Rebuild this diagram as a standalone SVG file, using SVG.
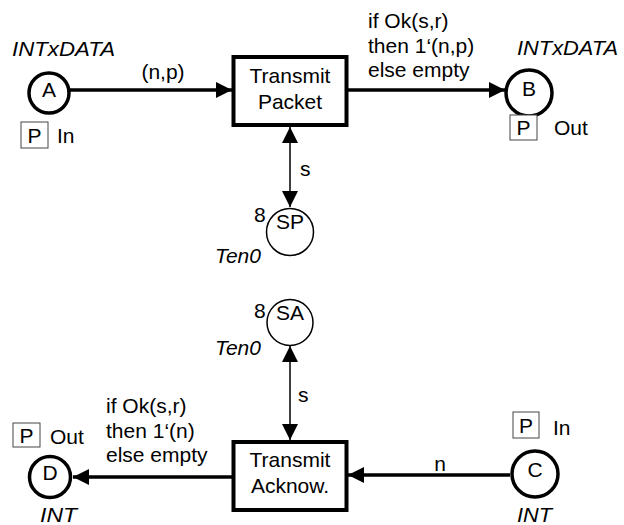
<svg xmlns="http://www.w3.org/2000/svg" width="624" height="525" viewBox="0 0 624 525">
<style>
text{font-family:"Liberation Sans",Arial,Helvetica,sans-serif;font-size:21px;fill:#000}
.it{font-style:italic}
.mid{text-anchor:middle}
.place{fill:#fff;stroke:#000;stroke-width:3.5}
.pool{fill:#fff;stroke:#000;stroke-width:1.5}
.trans{fill:#fff;stroke:#000;stroke-width:4}
.port{fill:#fff;stroke:#444;stroke-width:1}
.thick{fill:none;stroke:#000;stroke-width:3.5}
.thin{fill:none;stroke:#000;stroke-width:1.5}
</style>
<defs>
<marker id="ah" viewBox="0 0 16 16" refX="16" refY="8" markerWidth="16" markerHeight="16" markerUnits="userSpaceOnUse" orient="auto-start-reverse">
<path d="M0,0 L16,8 L0,16 z" fill="#000"/>
</marker>
</defs>
<rect width="624" height="525" fill="#fff"/>
<g id="connectors">
<path class="thick" d="M70,90 L232,90" marker-end="url(#ah)"/>
<text x="163" y="79" class="mid">(n,p)</text>
<path class="thick" d="M348,90 L505,90" marker-end="url(#ah)"/>
<text x="368" y="28">if Ok(s,r)</text>
<text x="368" y="53">then 1‘(n,p)</text>
<text x="368" y="77">else empty</text>
<path class="thin" d="M290,127 L290,207" marker-start="url(#ah)" marker-end="url(#ah)"/>
<text x="300" y="176">s</text>
<path class="thin" d="M290,346 L290,440" marker-start="url(#ah)" marker-end="url(#ah)"/>
<text x="298" y="402">s</text>
<path class="thick" d="M510,475 L348,475" marker-end="url(#ah)"/>
<text x="440" y="471" class="mid">n</text>
<path class="thick" d="M232,477 L73,477" marker-end="url(#ah)"/>
<text x="106" y="413">if Ok(s,r)</text>
<text x="106" y="438">then 1‘(n)</text>
<text x="106" y="462">else empty</text>
</g>
<g id="A">
<text x="12" y="56" class="it" textLength="103" lengthAdjust="spacingAndGlyphs">INTxDATA</text>
<circle class="place" cx="49" cy="93" r="20"/>
<text x="49" y="97" class="mid">A</text>
<rect class="port" x="21" y="122" width="27" height="26"/>
<text x="34.5" y="143" class="mid">P</text>
<text x="57" y="143">In</text>
</g>
<g id="TransmitPacket">
<rect class="trans" x="233.5" y="57" width="113" height="68"/>
<text x="290" y="83" class="mid">Transmit</text>
<text x="290" y="109" class="mid">Packet</text>
</g>
<g id="B">
<text x="517" y="55" class="it" textLength="101" lengthAdjust="spacingAndGlyphs">INTxDATA</text>
<circle class="place" cx="529" cy="93" r="23"/>
<text x="529" y="96" class="mid">B</text>
<rect class="port" x="510" y="115" width="27" height="25"/>
<text x="523.5" y="135" class="mid">P</text>
<text x="554" y="135">Out</text>
</g>
<g id="SP">
<circle class="pool" cx="290" cy="232" r="23.5"/>
<text x="290" y="229" class="mid">SP</text>
<text x="254" y="222">8</text>
<text x="215" y="263" class="it">Ten0</text>
</g>
<g id="SA">
<circle class="pool" cx="290" cy="322.5" r="23"/>
<text x="290" y="320" class="mid">SA</text>
<text x="254" y="318">8</text>
<text x="215" y="355" class="it">Ten0</text>
</g>
<g id="TransmitAcknow">
<rect class="trans" x="233.5" y="442" width="113" height="68"/>
<text x="290" y="467" class="mid">Transmit</text>
<text x="290" y="493" class="mid">Acknow.</text>
</g>
<g id="C">
<rect class="port" x="513" y="412" width="26" height="26"/>
<text x="526" y="433" class="mid">P</text>
<text x="553" y="435">In</text>
<circle class="place" cx="535" cy="474" r="23"/>
<text x="535" y="477" class="mid">C</text>
<text x="517" y="522" class="it" textLength="35" lengthAdjust="spacingAndGlyphs">INT</text>
</g>
<g id="D">
<rect class="port" x="13" y="423" width="27" height="24"/>
<text x="26.5" y="443" class="mid">P</text>
<text x="50" y="444">Out</text>
<circle class="place" cx="50" cy="477" r="20.5"/>
<text x="50" y="480" class="mid">D</text>
<text x="40" y="522" class="it" textLength="37" lengthAdjust="spacingAndGlyphs">INT</text>
</g>
</svg>
